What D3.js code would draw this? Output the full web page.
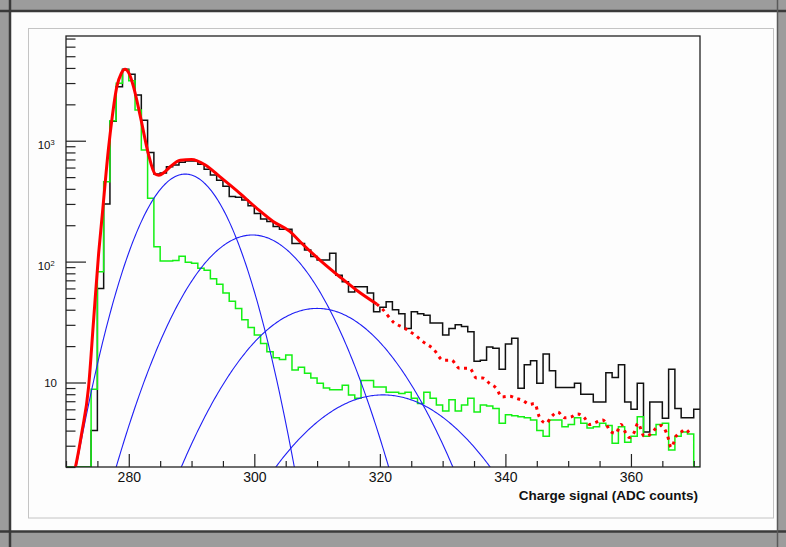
<!DOCTYPE html>
<html>
<head>
<meta charset="utf-8">
<script src="https://cdn.jsdelivr.net/npm/d3@7"></script>
<style>
  html, body { margin: 0; padding: 0; background: #9a9a9a; }
  svg { display: block; }
  text { font-family: "Liberation Sans", Arial, Helvetica, sans-serif; fill: #111; }
</style>
</head>
<body>
<svg id="chart" width="786" height="547"></svg>
<script>
/*
    --- data
*/

// histogram bins, width 1, lower edges 270 .. 370
var binLow = 270;
var binHigh = 371;

// measured spectrum (black)
var dataCounts = [
  0, 0, 0, 0, 4.0, 60, 300, 1450, 2800, 3900,          // 270-279
  3550, 2390, 1480, 800, 530, 540, 610, 630, 665, 680,  // 280-289
  680, 640, 580, 520, 470, 420, 345, 340, 323, 290,     // 290-299
  250, 225, 215, 195, 185, 185, 141, 141, 125, 110,     // 300-309
  103, 103, 117, 77, 68, 56, 62, 62, 55, 38.5,          // 310-319
  42, 46.6, 40, 37, 28, 38.5, 37, 36, 31, 31,           // 320-329
  24.7, 28, 30, 29, 26.3, 15, 15.3, 19.7, 19.2, 12.9,   // 330-339
  20.8, 23.2, 8.95, 14, 15.1, 9.85, 17.2, 12.5, 9.1, 9.1, // 340-349
  9.1, 9.85, 8.0, 8.0, 6.9, 6.9, 12.05, 11.0, 14, 6.9,  // 350-359
  6.0, 9.85, 3.9, 6.9, 6.9, 5.06, 12.9, 6.1, 5.1, 5.1,  // 360-369
  6.0                                                   // 370
];

// template component (green)
var templateCounts = [
  0, 0, 0, 0, 8.8, 82.5, 458, 1460, 2985, 3845,         // 270-279
  3134, 1795, 837, 334, 133, 101, 101, 102, 111, 99,    // 280-289
  97, 88, 85, 72, 65, 55, 47, 41, 33, 28.5,             // 290-299
  24.7, 21, 18, 16, 15.5, 16.9, 12.7, 13.4, 11.9, 10.9, // 300-309
  9.85, 9.0, 8.7, 8.7, 9.5, 7.9, 7.4, 10.4, 10.4, 9.2,  // 310-319
  9.2, 8.3, 8.3, 8.1, 8.3, 7.4, 6.7, 8.3, 7.4, 6.5,     // 320-329
  5.8, 7.2, 5.8, 6.5, 7.4, 5.7, 6.5, 6.4, 6.1, 4.6,     // 330-339
  5.4, 5.3, 5.2, 5.1, 4.9, 4.0, 3.6, 4.9, 4.9, 4.3,     // 340-349
  4.5, 5.1, 4.6, 4.2, 4.3, 4.6, 4.4, 3.14, 4.3, 3.2,    // 350-359
  3.6, 5.2, 3.6, 3.7, 4.5, 4.6, 2.76, 3.6, 3.9, 3.75,   // 360-369
  0                                                     // 370
];

// total fit (red), [charge, value]; solid inside the fit range, dotted beyond it
var fitRangeMax = 319.5;
var fitPoints = [
  [271.0, 1.6], [271.5, 2.0], [272.5, 3.8], [273.6, 9.2], [274.4, 33], [275.2, 117],
  [275.7, 221], [276.8, 892], [277.3, 1480], [278.1, 2800], [278.8, 3600], [279.4, 3900],
  [280.1, 3550], [280.75, 2800], [281.8, 1630], [283.1, 787], [284.2, 530], [284.8, 518],
  [285.6, 545], [286.6, 609], [288.2, 690], [290.0, 700], [292.2, 630], [294.5, 504],
  [297.7, 367], [300.4, 276], [303.0, 215], [305.7, 177], [307.3, 146], [310.45, 103],
  [313.6, 75], [316.3, 58], [319.5, 44.6], [320.5, 40], [322.1, 31.8], [324.0, 28],
  [325.6, 24.7], [326.9, 21.7], [328.5, 19], [330.1, 15.3], [331.4, 15.3], [332.7, 13.1],
  [334.3, 13.1], [335.4, 10.9], [336.4, 10.9], [337.5, 9.8], [338.6, 8.9], [339.4, 7.6],
  [340.7, 7.7], [341.7, 7.4], [342.8, 7.1], [343.85, 6.6], [344.65, 6.7], [345.4, 5.2],
  [346.5, 4.6], [347.3, 5.2], [348.35, 5.7], [349.4, 5.1], [350.5, 5.2], [351.5, 5.5],
  [352.6, 5.1], [353.4, 4.5], [354.5, 4.7], [355.5, 4.9], [356.85, 3.9], [357.6, 3.8],
  [358.4, 4.5], [359.2, 3.8], [359.75, 3.5], [360.55, 3.9], [361.1, 4.6], [362.1, 3.6],
  [363.2, 3.75], [364.0, 4.2], [364.8, 4.4], [365.85, 3.6], [366.4, 2.9], [367.2, 3.6],
  [368.0, 3.9], [368.7, 4.1], [369.3, 3.8]
];

// gaussian photo-electron peaks (blue): position, width, height
var peakMeans = [289.0, 299.7, 310.0, 320.5];
var peakSigmas = [5.2, 7.3, 8.8, 10.3];
var peakHeights = [530, 166, 41, 7.9];

// axes
var xTickValues = [280, 300, 320, 340, 360];
var yMajorValues = [10, 100, 1000];
var yMajorLabels = [["10", ""], ["10", "2"], ["10", "3"]];
var xTitle = "Charge signal (ADC counts)";

/*
    --- drawing
*/
var svg = d3.select('#chart');
var W = 786, H = 547;
var plot = { left: 66, right: 700, top: 36, bottom: 467 };

//photo frame around the canvas
svg.append('rect').attr('width', W).attr('height', H).attr('fill', '#9c9c9c');
svg.append('rect').attr('x', 11).attr('y', 12).attr('width', 766).attr('height', 519).attr('fill', '#fdfdfd');
svg.append('line').attr('x1', 0).attr('x2', W).attr('y1', 11).attr('y2', 11)
  .attr('stroke', '#3a3a3a').attr('stroke-width', 2.5);
svg.append('line').attr('x1', 0).attr('x2', W).attr('y1', 531.5).attr('y2', 531.5)
  .attr('stroke', '#3a3a3a').attr('stroke-width', 2.5);
svg.append('line').attr('x1', 10).attr('x2', 10).attr('y1', 0).attr('y2', H)
  .attr('stroke', '#3a3a3a').attr('stroke-width', 2.5);
svg.append('line').attr('x1', 777.5).attr('x2', 777.5).attr('y1', 0).attr('y2', H)
  .attr('stroke', '#5a5a5a').attr('stroke-width', 1.5);
svg.append('rect').attr('x', 28.5).attr('y', 28.5).attr('width', 745).attr('height', 489.5)
  .attr('fill', 'none').attr('stroke', '#c4c4c4').attr('stroke-width', 1);

var x = d3.scaleLinear().domain([binLow, binHigh]).range([plot.left, plot.right]);
var y = d3.scaleLog().domain([2, 7350]).range([plot.bottom, plot.top]);
var yMin = y.domain()[0];

svg.append('clipPath').attr('id', 'plotClip')
  .append('rect')
  .attr('x', plot.left).attr('y', plot.top)
  .attr('width', plot.right - plot.left).attr('height', plot.bottom - plot.top);

var layer = svg.append('g').attr('clip-path', 'url(#plotClip)');

//histogram outline as steps; empty bins sit on the lower edge
var stepLine = d3.line()
  .x(function(d) { return x(d[0]); })
  .y(function(d) { return y(Math.max(d[1], yMin)); })
  .curve(d3.curveStepAfter);

var histPoints = function(counts) {
  var pts = counts.map(function(c, i) { return [binLow + i, c]; });
  pts.push([binLow + counts.length, counts[counts.length - 1]]);
  return pts;
};

layer.append('path')
  .attr('d', stepLine(histPoints(dataCounts)))
  .attr('fill', 'none').attr('stroke', '#111').attr('stroke-width', 1.5);

layer.append('path')
  .attr('d', stepLine(histPoints(templateCounts)))
  .attr('fill', 'none').attr('stroke', '#14f014').attr('stroke-width', 1.5);

//gaussian components
var smooth = d3.line()
  .x(function(d) { return x(d[0]); })
  .y(function(d) { return y(d[1]); });

peakMeans.forEach(function(mu, k) {
  var pts = [];
  for (var c = binLow; c <= binHigh; c += 0.2) {
    var v = peakHeights[k] * Math.exp(-0.5 * Math.pow((c - mu) / peakSigmas[k], 2));
    if (v > 1) pts.push([c, v]);
  }
  layer.append('path')
    .attr('d', smooth(pts))
    .attr('fill', 'none').attr('stroke', '#1f1ff5').attr('stroke-width', 1.1);
});

//total fit: solid within range, dotted outside
var fitLine = d3.line()
  .x(function(d) { return x(d[0]); })
  .y(function(d) { return y(d[1]); })
  .curve(d3.curveMonotoneX);

layer.append('path')
  .attr('d', fitLine(fitPoints.filter(function(d) { return d[0] <= fitRangeMax; })))
  .attr('fill', 'none').attr('stroke', '#ff0000').attr('stroke-width', 3)
  .attr('stroke-linejoin', 'round');

layer.append('path')
  .attr('d', fitLine(fitPoints.filter(function(d) { return d[0] >= fitRangeMax; })))
  .attr('fill', 'none').attr('stroke', '#ff0000').attr('stroke-width', 3)
  .attr('stroke-dasharray', '3,4.5');

//x axis: ticks pointing into the pad
var minorX = d3.range(binLow, binHigh + 0.01, 5).filter(function(v) { return xTickValues.indexOf(v) < 0; });

var xAxisMinor = d3.axisBottom(x).tickValues(minorX).tickSize(-6).tickFormat('');
var xAxisMajor = d3.axisBottom(x).tickValues(xTickValues).tickSize(-13).tickPadding(5).tickFormat(d3.format('d'));

var gx1 = svg.append('g').attr('transform', 'translate(0,' + plot.bottom + ')').call(xAxisMinor);
var gx2 = svg.append('g').attr('transform', 'translate(0,' + plot.bottom + ')').call(xAxisMajor);
[gx1, gx2].forEach(function(g) {
  g.select('.domain').remove();
  g.selectAll('line').attr('stroke', '#222').attr('stroke-width', 1.2);
});
gx2.selectAll('text')
  .attr('font-size', '14px')
  .attr('font-family', '"Liberation Sans", Arial, sans-serif')
  .attr('fill', '#111');

svg.append('text')
  .attr('x', 698).attr('y', 500)
  .attr('text-anchor', 'end')
  .attr('font-size', '13.5px').attr('font-weight', 'bold')
  .text(xTitle);

//y axis (log): decade ticks long, 2..9 ticks short
var minorY = [];
[1, 10, 100, 1000].forEach(function(dec) {
  for (var m = 2; m <= 9; m++) {
    var v = m * dec;
    if (v >= y.domain()[0] && v <= y.domain()[1]) minorY.push(v);
  }
});

var gy1 = svg.append('g').attr('transform', 'translate(' + plot.left + ',0)')
  .call(d3.axisLeft(y).tickValues(minorY).tickSize(-9.5).tickFormat(''));
var gy2 = svg.append('g').attr('transform', 'translate(' + plot.left + ',0)')
  .call(d3.axisLeft(y).tickValues(yMajorValues).tickSize(-20).tickFormat(''));
[gy1, gy2].forEach(function(g) {
  g.select('.domain').remove();
  g.selectAll('line').attr('stroke', '#222').attr('stroke-width', 1.2);
});

yMajorValues.forEach(function(v, i) {
  var lab = yMajorLabels[i];
  var yy = y(v);
  if (lab[1] === '') {
    svg.append('text').attr('x', 57).attr('y', yy + 4.5)
      .attr('text-anchor', 'end').attr('font-size', '11.5px').text(lab[0]);
  } else {
    svg.append('text').attr('x', 50.5).attr('y', yy + 8.5)
      .attr('text-anchor', 'end').attr('font-size', '11.5px').text(lab[0]);
    svg.append('text').attr('x', 50.5).attr('y', yy + 4)
      .attr('text-anchor', 'start').attr('font-size', '7.5px').text(lab[1]);
  }
});

//pad frame
svg.append('rect')
  .attr('x', plot.left).attr('y', plot.top)
  .attr('width', plot.right - plot.left).attr('height', plot.bottom - plot.top)
  .attr('fill', 'none').attr('stroke', '#222').attr('stroke-width', 1.3);
</script>
</body>
</html>
